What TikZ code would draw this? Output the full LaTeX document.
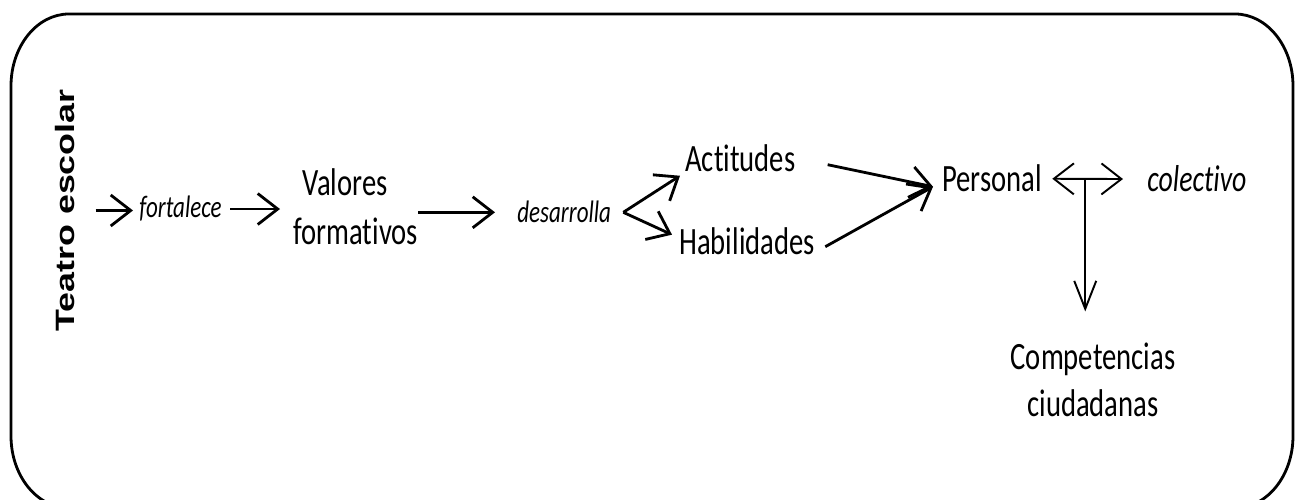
\documentclass[tikz,border=0pt]{standalone}
\usepackage{fontspec}
\setmainfont{Carlito}[Ligatures=NoCommon]
\newfontfamily\headfont{Liberation Sans}
\usetikzlibrary{arrows.meta, calc}

\begin{document}
\begin{tikzpicture}[x=0.02cm, y=0.02cm,
  lbl/.style={inner sep=0pt, anchor=base west, yscale=1.35, font=\fontsize{16.3}{21}\selectfont},
  verb/.style={lbl, font=\fontsize{13.1}{16}\selectfont\itshape},
  arr/.style={-{Straight Barb[length=0.4cm,width=0.62cm]}, line width=1.6pt},
  dbl/.style={{Straight Barb[length=0.4cm,width=0.62cm]}-{Straight Barb[length=0.4cm,width=0.62cm]}, line width=1.1pt},
  down/.style={-{Straight Barb[length=0.56cm,width=0.44cm]}, line width=1.1pt}]
  \useasboundingbox (0,0) rectangle (1296,500);
  % marco redondeado
  \draw[line width=1.6pt] (11,414) arc[start angle=180, end angle=90, x radius=58, y radius=72]
    -- (1235,486) arc[start angle=90, end angle=0, x radius=58, y radius=72]
    -- (1293,64) arc[start angle=0, end angle=-90, x radius=58, y radius=72]
    -- (69,-8) arc[start angle=270, end angle=180, x radius=58, y radius=72] -- cycle;

  \node[inner sep=0pt, font=\headfont\bfseries\fontsize{15.1}{18}\selectfont, yscale=1.35, rotate=90] (teatro) at (65,289.5) {Teatro escolar};
  \node[verb] (fortalece) at (139,282) {fortalece};
  \node[lbl, align=left] (valores) at (293,255) {\hspace*{0.18cm}Valores\\formativos};
  \node[verb] (desarrolla) at (517,277) {desarrolla};
  \node[lbl] (actitudes) at (685,328) {Actitudes};
  \node[lbl] (habilidades) at (679,245) {Habilidades};
  \node[lbl] (personal) at (942,308) {Personal};
  \node[lbl, font=\fontsize{15.8}{19}\selectfont\itshape] (colectivo) at (1147,308) {colectivo};
  \node[lbl, anchor=base, align=center, font=\fontsize{16.3}{20}\selectfont] (competencias) at (1093,83) {Competencias\\ciudadanas};

  \draw[arr, shorten <=0.41cm, shorten >=0.12cm] (teatro.south) -- (teatro.south -| fortalece.west);
  \draw[arr, shorten <=0.16cm, shorten >=0.26cm] (fortalece.east) -- (fortalece.east -| valores.west);
  \draw[arr, shorten >=0.44cm] (valores.east |- desarrolla.west) -- (desarrolla.west);
  %%
  \coordinate (fork) at ($(desarrolla.east)+(12,0)$);
  \draw[arr] (fork) -- ([shift={(-5,-3)}]actitudes.south west);
  \draw[arr] (fork) -- ([shift={(-7,-7)}]habilidades.north west);
  \draw[arr] ([shift={(32,-6)}]actitudes.east) -- ([shift={(-9,-8)}]personal.west);
  \draw[arr] ([shift={(10,-5)}]habilidades.east) -- ([shift={(-9,-8)}]personal.west);
  %%
  \draw[dbl, shorten <=0.2cm, shorten >=0.48cm] (personal.east) -- (colectivo.west);
  \coordinate (tee) at ($(personal.east)!0.41!(colectivo.west)$);
  \draw[down, shorten >=0.62cm] (tee) -- (tee |- competencias.north);
\end{tikzpicture}
\end{document}
